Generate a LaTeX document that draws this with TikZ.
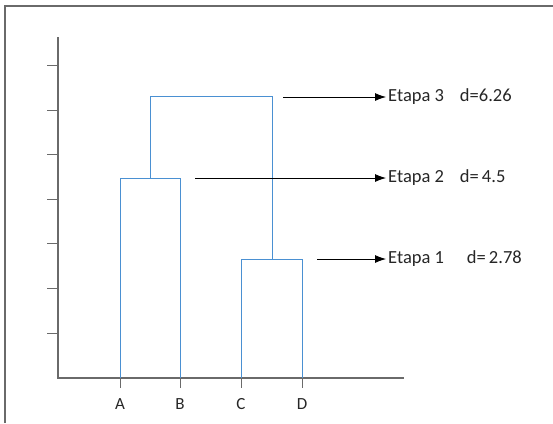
\documentclass[tikz,border=0pt]{standalone}
\usepackage{fontspec}
\setmainfont{Carlito}
\usetikzlibrary{arrows.meta}
\definecolor{dblue}{HTML}{4A90D2}
\definecolor{axgray}{HTML}{6A6A6A}
\tikzset{
  frame/.style={draw=axgray, line width=1.2pt},
  axisline/.style={draw=axgray, line width=1.1pt},
  tick/.style={draw=axgray, line width=1pt},
  dendro/.style={draw=dblue, line width=1pt},
  stagearrow/.style={draw=black, line width=0.8pt, shorten >=2pt, -{Latex[length=11pt,width=8pt]}},
  stagelabel/.style={anchor=west, inner sep=0pt, font=\fontsize{18.5}{20}\selectfont, text=black!85},
  leaf/.style={inner sep=1pt, font=\fontsize{17}{19}\selectfont, text=black!85}
}
\begin{document}
\begin{tikzpicture}[x=1pt,y=-1pt]
\useasboundingbox (0,0) rectangle (553,423);
% frame (only top and left edges visible)
\draw[frame] (5,423) -- (5,6) -- (553,6);
% axes
\coordinate (ytop) at (58,37);
\coordinate (orig) at (58,378);
\coordinate (xend) at (404,378);
\draw[axisline] (ytop) -- (orig) -- (xend);
\foreach \y in {65,110,154,199,243,288,333}
  \draw[tick] (47,\y) -- (58,\y);
\foreach \x in {120,180,241,302}
  \draw[tick] (\x,378) -- (\x,388);
% leaves
\node[leaf] (A) at (120,404) {A};
\node[leaf] (B) at (180,404) {B};
\node[leaf] (C) at (241,404) {C};
\node[leaf] (D) at (302,404) {D};
% dendrogram
\coordinate (a0) at (120,378);
\coordinate (b0) at (180,378);
\coordinate (c0) at (241,378);
\coordinate (d0) at (302,378);
\coordinate (ab) at (150,178);
\coordinate (cd) at (272,259);
\draw[dendro] (a0) -- (120,178) -- (180,178) -- (b0);
\draw[dendro] (c0) -- (241,259) -- (302,259) -- (d0);
\draw[dendro] (ab) -- (150,96) -- (272,96) -- (cd);
% stage labels
\node[stagelabel] (e3) at (388,97) {Etapa 3\hspace{16pt}d=6.26};
\node[stagelabel] (e2) at (388,178) {Etapa 2\hspace{16pt}d=\,4.5};
\node[stagelabel] (e1) at (388,259) {Etapa 1\hspace{23pt}d=\,2.78};
\coordinate (s3) at (283,97);
\coordinate (s2) at (195,178);
\coordinate (s1) at (317,259);
\draw[stagearrow] (s3) -- (e3.west);
\draw[stagearrow] (s2) -- (e2.west);
\draw[stagearrow] (s1) -- (e1.west);
\end{tikzpicture}
\end{document}
